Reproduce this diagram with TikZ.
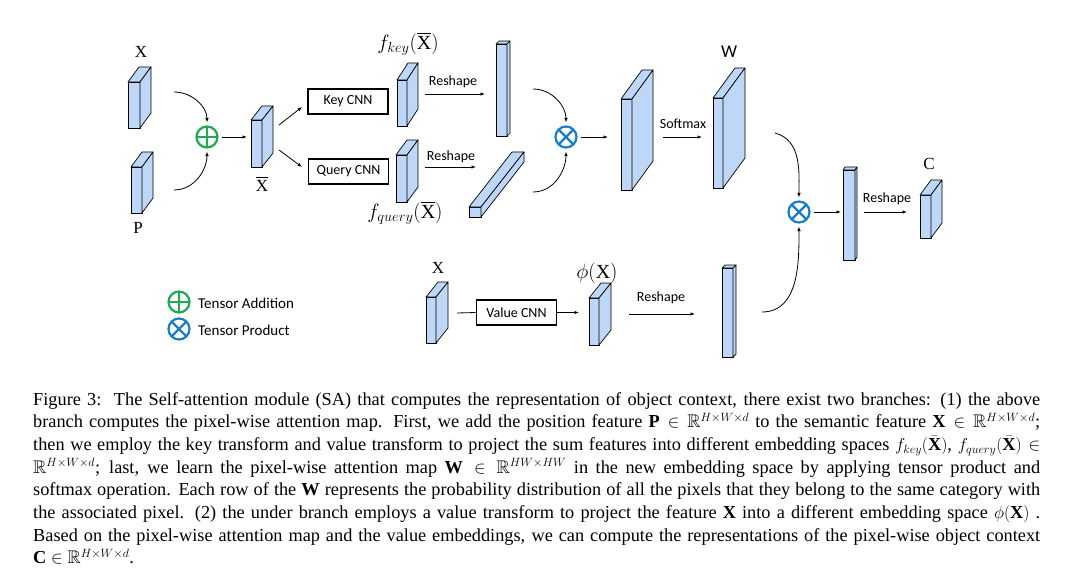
\documentclass[tikz,border=0pt]{standalone}
\usepackage{amsmath,amssymb}
\usepackage{fontspec}
\setmainfont{Liberation Serif}
\newfontfamily\calfont{Carlito}
\usetikzlibrary{arrows.meta,calc}

\definecolor{boxblue}{RGB}{190,215,248}
\definecolor{addgreen}{RGB}{30,170,85}
\definecolor{mulblue}{RGB}{25,125,200}

\tikzset{
  cubeface/.style={fill=boxblue, draw=black, line width=0.7pt, line join=round},
  arr/.style={-{Latex[length=4.5pt,width=3.5pt]}, line width=0.8pt},
  cnnbox/.style={draw, line width=1.6pt, minimum width=80pt, minimum height=25pt, inner sep=0pt,
    font=\calfont\fontsize{14}{16}\selectfont},
  sanslabel/.style={font=\calfont\fontsize{14}{16}\selectfont, inner sep=0pt},
  mathlabel/.style={font=\fontsize{17}{20}\selectfont, inner sep=0pt},
  funclabel/.style={font=\fontsize{20}{24}\selectfont, inner sep=0pt},
  addop/.style={circle, draw=addgreen, line width=2.2pt, minimum size=21pt, inner sep=0pt,
    path picture={\draw[addgreen, line width=2.2pt]
      (path picture bounding box.north) -- (path picture bounding box.south)
      (path picture bounding box.west) -- (path picture bounding box.east);}},
  mulop/.style={circle, draw=mulblue, line width=2.2pt, minimum size=21pt, inner sep=0pt,
    path picture={\draw[mulblue, line width=2.2pt]
      (path picture bounding box.north west) -- (path picture bounding box.south east)
      (path picture bounding box.north east) -- (path picture bounding box.south west);}},
}

% cuboid: name, x, y (front top left), width, height, depth x, depth y
\newcommand{\cuboid}[7]{%
  \filldraw[cubeface] (#2,#3) rectangle ({#2+#4},{#3+#5});
  \filldraw[cubeface] (#2,#3) -- ({#2+#6},{#3+#7}) -- ({#2+#4+#6},{#3+#7}) -- ({#2+#4},#3) -- cycle;
  \filldraw[cubeface] ({#2+#4},#3) -- ({#2+#4+#6},{#3+#7}) -- ({#2+#4+#6},{#3+#5+#7}) -- ({#2+#4},{#3+#5}) -- cycle;
  \node[inner sep=0pt, minimum width=#4pt, minimum height=#5pt, anchor=north west] (#1) at (#2,#3) {};
}

\begin{document}
\begin{tikzpicture}[x=1pt, y=-1pt]
    \useasboundingbox (0,0) rectangle (1074,583);

    % feature maps:
    \cuboid{xin}{128}{82}{12}{46}{11}{-15}
    \cuboid{pin}{131}{167}{11}{46}{11}{-15}
    \cuboid{xbar}{251}{120}{11}{47}{11}{-14}
    \cuboid{fkey}{397}{80}{10}{46}{11}{-17}
    \cuboid{fquery}{396}{155}{11}{47}{11}{-15}
    \cuboid{keyr}{496}{44}{11}{92}{3}{-3}
    \cuboid{queryr}{469}{207}{12}{10}{43}{-55}
    \cuboid{att}{621}{99}{11}{91}{21}{-29}
    \cuboid{wmap}{713}{98}{10}{90}{22}{-30}
    \cuboid{ctx}{843}{170}{12}{90}{2}{-3}
    \cuboid{cout}{920}{195}{11}{43}{11}{-15}
    \cuboid{xv}{426}{297}{10}{46}{12}{-15}
    \cuboid{phi}{589}{298}{10}{47}{12}{-15}
    \cuboid{vr}{722}{268}{11}{89}{3}{-3}

    % labels:
    \node[mathlabel] (xinlbl) at (141,52) {X};
    \node[mathlabel] (pinlbl) at (138,228) {P};
    \node[mathlabel] (xbarlbl) at (262,184) {$\overline{\mathrm{X}}$};
    \node[funclabel] (fkeylbl) at (408,44) {$f_{key}(\overline{\mathrm{X}})$};
    \node[funclabel] (fquerylbl) at (405,213) {$f_{query}(\overline{\mathrm{X}})$};
    \node[font=\calfont\fontsize{18}{20}\selectfont, inner sep=0pt] (wlbl) at (729,52) {W};
    \node[mathlabel] (clbl) at (929,164) {C};
    \node[mathlabel] (xvlbl) at (438,268) {X};
    \node[funclabel] (philbl) at (597,273) {$\phi(\mathrm{X})$};
    \node[sanslabel] (reshape1) at (453,82) {Reshape};
    \node[sanslabel] (reshape2) at (451,157) {Reshape};
    \node[sanslabel] (softmax) at (683,124) {Softmax};
    \node[sanslabel] (reshape3) at (887,199) {Reshape};
    \node[sanslabel] (reshape4) at (661,298) {Reshape};

    % cnn boxes and operators:
    \node[cnnbox] (keycnn) at (348,101.5) {Key CNN};
    \node[cnnbox] (querycnn) at (348.5,171.5) {Query CNN};
    \node[cnnbox] (valuecnn) at (516.5,312.5) {Value CNN};
    \node[addop] (plus) at (207,137) {};
    \node[mulop] (prod1) at (566,137) {};
    \node[mulop] (prod2) at (799,212) {};

    % free ends:
    \coordinate (xin-o) at (174,92);
    \coordinate (pin-o) at (174,190);
    \coordinate (xbar-o1) at (279,125);
    \coordinate (xbar-o2) at (279,150);
    \coordinate (keycnn-i) at (302,107);
    \coordinate (querycnn-i) at (302,167);
    \coordinate (keyr-o) at (533,89);
    \coordinate (queryr-o) at (533,192);
    \coordinate (queryr-i) at (476,167);
    \coordinate (wmap-o) at (775,133);
    \coordinate (vr-o) at (762,312);
    \coordinate (xv-o) at (457,313);

    % arrows:
    \draw[arr, shorten >=3pt] (xin-o) to[out=0, in=90] (plus.north);
    \draw[arr, shorten >=3pt] (pin-o) to[out=0, in=-90] (plus.south);
    \draw[arr, shorten <=3pt, shorten >=4pt] (plus.east) -- (plus.east -| xbar.west);
    \draw[arr] (xbar-o1) -- (keycnn-i);
    \draw[arr] (xbar-o2) -- (querycnn-i);
    \draw[arr, shorten <=18pt, shorten >=11pt] (fkey.east |- 0,94) -- (keyr.west |- 0,94);
    \draw[arr, shorten <=18pt] (fquery.east |- queryr-i) -- (queryr-i);
    \draw[arr, shorten >=3pt] (keyr-o) to[out=0, in=90] (prod1.north);
    \draw[arr, shorten >=3pt] (queryr-o) to[out=0, in=-90] (prod1.south);
    \draw[arr, shorten <=3pt, shorten >=13pt] (prod1.east) -- (prod1.east -| att.west);
    \draw[arr, shorten <=31pt, shorten >=11pt] (att.east |- prod1) -- (wmap.west |- prod1);
    \draw[arr, shorten >=3pt] (wmap-o) to[out=-15, in=90] (prod2.north);
    \draw[arr, shorten >=3pt] (vr-o) to[out=0, in=-90] (prod2.south);
    \draw[arr, shorten <=3pt, shorten >=2pt] (prod2.east) -- (prod2.east -| ctx.west);
    \draw[arr, shorten <=9pt, shorten >=13pt] (ctx.east |- prod2) -- (cout.west |- prod2);
    \draw[line width=0.8pt] (xv-o) -- (valuecnn.west);
    \draw[arr, shorten >=10pt] (valuecnn.east) -- (valuecnn.east -| phi.west);
    \draw[arr, shorten <=30pt, shorten >=27pt] (phi.east |- 0,314) -- (vr.west |- 0,314);

    % legend:
    \node[addop] (legadd) at (179,302) {};
    \node[sanslabel, anchor=west, font=\calfont\fontsize{15}{17}\selectfont] (legaddtxt) at (198,303) {Tensor Addition};
    \node[mulop] (legmul) at (179,329) {};
    \node[sanslabel, anchor=west, font=\calfont\fontsize{15}{17}\selectfont] (legmultxt) at (198,330) {Tensor Product};

    % caption:
    \node[anchor=north west, inner sep=0pt, text width=1007pt, align=justify,
          font=\fontsize{18.3}{22.7}\selectfont] (caption) at (33,392) {%
      Figure 3:\ \ The Self-attention module (SA) that computes the representation of object context, there exist two branches: (1) the above\linebreak
      branch computes the pixel-wise attention map. First, we add the position feature $\mathbf{P}\in\mathbb{R}^{H\times W\times d}$ to the semantic feature $\mathbf{X}\in\mathbb{R}^{H\times W\times d}$;\linebreak
      then we employ the key transform and value transform to project the sum features into different embedding spaces $f_{key}(\bar{\mathbf{X}})$, $f_{query}(\bar{\mathbf{X}})\in$\linebreak
      $\mathbb{R}^{H\times W\times d}$; last, we learn the pixel-wise attention map $\mathbf{W}\in\mathbb{R}^{HW\times HW}$ in the new embedding space by applying tensor product and\linebreak
      softmax operation. Each row of the $\mathbf{W}$ represents the probability distribution of all the pixels that they belong to the same category with\linebreak
      the associated pixel. (2) the under branch employs a value transform to project the feature $\mathbf{X}$ into a different embedding space $\phi(\mathbf{X})$ .\linebreak
      Based on the pixel-wise attention map and the value embeddings, we can compute the representations of the pixel-wise object context\linebreak
      $\mathbf{C}\in\mathbb{R}^{H\times W\times d}$.};
\end{tikzpicture}
\end{document}
